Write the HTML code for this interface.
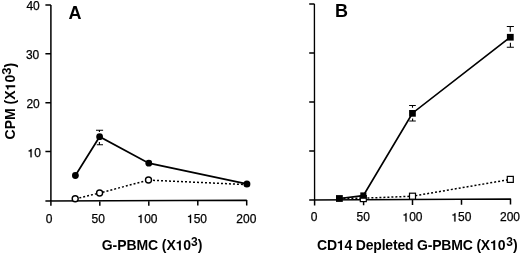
<!DOCTYPE html>
<html><head><meta charset="utf-8">
<style>
html,body{margin:0;padding:0;background:#fff;}
body{width:520px;height:254px;overflow:hidden;position:relative;font-family:"Liberation Sans",sans-serif;}
svg{position:absolute;left:0;top:0;will-change:transform;}
text{font-family:"Liberation Sans",sans-serif;fill:#000;}
.t{font-size:12px;stroke:#000;stroke-width:0.25px;}
.b{font-weight:bold;}
.h{fill-opacity:0;stroke-opacity:0;}
</style></head><body>
<svg width="520" height="254" viewBox="0 0 520 254">
<defs>
<path id="oner" d="M700 0V-1409H545C520 -1280 420 -1175 197 -1160V-1010H500V0Z" fill="#000" stroke="#000" stroke-width="43"/>
<path id="oneb" d="M759 0V-1409H545C505 -1265 390 -1175 140 -1165V-975H478V0Z" fill="#000"/>
</defs>
<g stroke="#000" stroke-width="1.5" fill="none">
<!-- Panel A axes -->
<path d="M50.9 4.9V200.93M45.4 4.9H50.9M45.4 53.8H50.9M45.4 102.7H50.9M45.4 151.6H50.9M45.4 200.95L246.8 200.25M50.9 200.63V205.80M99.8 200.46V205.73M148.8 200.29V205.65M197.8 200.12V205.58M246.7 199.95V205.50"/>
<!-- Panel B axes -->
<path d="M309.2 199.95L510.9 199.00M314.6 199.62V205.50M363.6 199.39V205.25M412.5 199.16V205.00M461.5 198.93V204.75M510.5 198.70V204.50"/>
<path d="M314.4 4L314.6 199.92M309.2 4.0H314.5M309.2 53.0H314.5M309.2 102.0H314.5M309.2 151.0H314.5" stroke-width="1.35"/>
</g>
<!-- Panel A data -->
<g stroke="#000" stroke-width="1.5" fill="none">
<path d="M75.4 198.8L99.6 193L148.6 180.1L246.6 184.6" stroke-dasharray="2 2"/>
<path d="M75.4 175.5L99.6 136.7L148.8 163.2L246.6 183.9" stroke-width="1.7"/>
<path d="M99.4 130.2V132M96 130.2H103.1M99.4 142.1V144.8M96.8 144.8H103" stroke-width="1.1"/>
</g>
<g fill="#fff" stroke="#000" stroke-width="1.4">
<circle cx="75.2" cy="198.8" r="3"/>
<circle cx="99.6" cy="193" r="3"/>
<circle cx="148.5" cy="180" r="3"/>
</g>
<g fill="#000">
<circle cx="75.4" cy="175.5" r="3.4"/>
<circle cx="99.6" cy="136.7" r="3.4"/>
<circle cx="148.8" cy="163.2" r="3.4"/>
<circle cx="246.9" cy="184" r="3.5"/>
</g>
<!-- Panel B data -->
<g stroke="#000" stroke-width="1.5" fill="none">
<path d="M339.4 198.4L363.3 198.2L412.5 196.2L510.3 179.4" stroke-dasharray="2 2"/>
<path d="M339.4 198.5L363.3 195.6L412.4 113.2L510.3 37.1" stroke-width="1.7"/>
<path d="M412.5 105.5V107.8M409.1 105.5H415.8M412.6 118.4V121M409.2 121H415.8M510.25 26.5V31.7M506.8 26.5H513.9M510.4 42.8V47.2M506.8 47.2H513.9" stroke-width="1.1"/>
</g>
<g fill="#fff" stroke="#000" stroke-width="1.2">
<rect x="339.4" y="198.5" width="0" height="0"/>
<rect x="360.3" y="195.6" width="6" height="6"/>
<rect x="409.5" y="193.2" width="6" height="6"/>
<rect x="507.3" y="176.4" width="6" height="6"/>
</g>
<g fill="#000">
<rect x="336" y="195.1" width="6.8" height="6.8"/>
<rect x="360.3" y="192.4" width="6.1" height="6.4"/>
<rect x="409.1" y="110" width="6.7" height="6.7"/>
<rect x="506.9" y="33.9" width="6.8" height="6.7"/>
</g>
<!-- tick labels -->
<g class="t" text-anchor="end">
<text x="39.8" y="10">40</text>
<text x="39.3" y="59">30</text>
<text x="39.8" y="108">20</text>
<text x="40.9" y="157.3"><tspan class="h">1</tspan>0</text>
</g>
<g class="t" text-anchor="middle">
<text x="49.2" y="222.9">0</text>
<text x="98.2" y="222.9">50</text>
<text x="147.5" y="222.9"><tspan class="h">1</tspan>00</text>
<text x="197" y="222.9"><tspan class="h">1</tspan>50</text>
<text x="246.3" y="222.9">200</text>
<text x="314.2" y="221.4">0</text>
<text x="363.2" y="221.4">50</text>
<text x="412.5" y="221.4"><tspan class="h">1</tspan>00</text>
<text x="461.4" y="221.4"><tspan class="h">1</tspan>50</text>
<text x="510" y="221.4">200</text>
</g>
<text class="b" x="68.6" y="18.9" font-size="18">A</text>
<text class="b" x="335.1" y="17" font-size="18">B</text>
<text class="b" x="101.8" y="250.2" font-size="14" letter-spacing="-0.09">G-PBMC (X<tspan class="h">1</tspan>0<tspan dy="-4" font-size="12">3</tspan><tspan dy="4">)</tspan></text>
<text class="b" x="317" y="250.0" font-size="14" letter-spacing="-0.19">CD<tspan class="h">1</tspan>4 Depleted G-PBMC (X<tspan class="h">1</tspan>0<tspan dx="0.9" dy="-4" font-size="12">3</tspan><tspan dx="0.5" dy="4">)</tspan></text>
<text class="b" transform="translate(15.2 139.4) rotate(-90)" font-size="14">CPM (X<tspan class="h">1</tspan>0<tspan dy="-3.9" font-size="13">3</tspan><tspan dy="3.9">)</tspan></text>
<g id="ones">
<use href="#oner" transform=" translate(27.53 157.30) scale(0.005859)"/>
<use href="#oner" transform=" translate(137.48 222.90) scale(0.005859)"/>
<use href="#oner" transform=" translate(186.98 222.90) scale(0.005859)"/>
<use href="#oner" transform=" translate(402.48 221.40) scale(0.005859)"/>
<use href="#oner" transform=" translate(451.38 221.40) scale(0.005859)"/>
<use href="#oneb" transform=" translate(175.66 250.20) scale(0.006836)"/>
<use href="#oneb" transform=" translate(336.84 250.00) scale(0.006836)"/>
<use href="#oneb" transform=" translate(490.02 250.00) scale(0.006836)"/>
<use href="#oneb" transform="translate(15.2 139.4) rotate(-90) translate(49.00 0.00) scale(0.006836)"/>
</g>
</svg>
</body></html>
